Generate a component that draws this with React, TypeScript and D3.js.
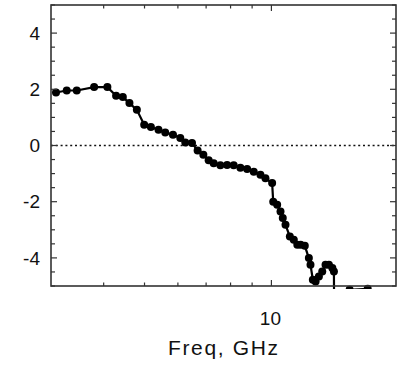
import React from "react";
import * as d3 from "d3";

const freqs: number[] = [
  3.083, 3.269, 3.453, 3.797, 4.082, 4.281, 4.441, 4.605, 4.795, 4.991,
  5.177, 5.397, 5.599, 5.841, 6.079, 6.247, 6.481, 6.683, 6.895, 7.098,
  7.295, 7.567, 7.85, 8.138, 8.442, 8.758, 9.08, 9.418, 9.68, 10.04,
  10.1, 10.32, 10.51, 10.64, 10.8, 11.06, 11.3, 11.52, 11.73, 12.0,
  12.27, 12.38, 12.54, 12.73, 12.96, 13.2, 13.44, 13.69, 13.95, 14.07,
  14.09, 15.33, 16.92,
];
const values: number[] = [
  1.886, 1.957, 1.957, 2.078, 2.078, 1.769, 1.722, 1.509, 1.27, 0.737,
  0.655, 0.559, 0.463, 0.381, 0.263, 0.107, 0.085, -0.178, -0.331, -0.527,
  -0.633, -0.705, -0.698, -0.705, -0.794, -0.84, -0.936, -1.043, -1.167, -1.338,
  -2.004, -2.11, -2.349, -2.584, -2.822, -3.238, -3.356, -3.534, -3.534, -3.569,
  -4.007, -4.246, -4.779, -4.84, -4.662, -4.484, -4.246, -4.246, -4.363, -4.484,
  -6.2, -5.135, -5.1,
];
const yMajorTicks: number[] = [-4, -2, 0, 2, 4];
const xMinorTicks: number[] = [4, 5, 6, 7, 8, 9];
const xMajorTicks: number[] = [10];
const xLabel = "Freq, GHz";

export default function App() {
  const W = 400, H = 367;
  const L = 51, R = 396, T = 5, B = 286;
  const x = d3.scaleLog().domain([3, 19.75]).range([L, R]);
  const y = d3.scaleLinear().domain([-5, 5]).range([B, T]);
  const pts = freqs.map((f, i) => ({ f, v: values[i] }));
  const line = d3.line<{ f: number; v: number }>().x((d) => x(d.f)).y((d) => y(d.v));
  const yMinor = d3.range(-5, 5.01, 0.5).filter((v) => !yMajorTicks.includes(v));
  const axisColor = "#333";
  const font = "'Liberation Sans', Arial, Helvetica, sans-serif";

  return (
    <svg width={W} height={H} style={{ position: "absolute", left: 0, top: 0, background: "#fff" }}>
      <defs>
        <clipPath id="plotclip">
          <rect x={L} y={T} width={R - L} height={B - T + 3} />
        </clipPath>
      </defs>
      <line x1={L} x2={R} y1={y(0)} y2={y(0)} stroke="#111" strokeWidth={1.4} strokeDasharray="2,2.8" />
      <g clipPath="url(#plotclip)">
        <path d={line(pts) || ""} fill="none" stroke="#000" strokeWidth={2.2} />
        {pts.map((d, i) => (
          <circle key={i} cx={x(d.f)} cy={y(d.v)} r={4} fill="#000" />
        ))}
      </g>
      <rect x={L} y={T} width={R - L} height={B - T} fill="none" stroke={axisColor} strokeWidth={1.6} />
      {yMinor.map((v) => (
        <g key={"ym" + v}>
          <line x1={L} x2={L + 4} y1={y(v)} y2={y(v)} stroke={axisColor} strokeWidth={1.2} />
          <line x1={R} x2={R - 4} y1={y(v)} y2={y(v)} stroke={axisColor} strokeWidth={1.2} />
        </g>
      ))}
      {yMajorTicks.map((v) => (
        <g key={"yM" + v}>
          <line x1={L} x2={L + 6} y1={y(v)} y2={y(v)} stroke={axisColor} strokeWidth={1.2} />
          <line x1={R} x2={R - 6} y1={y(v)} y2={y(v)} stroke={axisColor} strokeWidth={1.2} />
          <text x={40} y={y(v) + 6.6} textAnchor="end" fontFamily={font} fontSize={19} fill="#111">
            {v}
          </text>
        </g>
      ))}
      {xMinorTicks.map((f) => (
        <g key={"xm" + f}>
          <line x1={x(f)} x2={x(f)} y1={T} y2={T + 3.5} stroke={axisColor} strokeWidth={1.2} />
          <line x1={x(f)} x2={x(f)} y1={B} y2={B - 3.5} stroke={axisColor} strokeWidth={1.2} />
        </g>
      ))}
      {xMajorTicks.map((f) => (
        <g key={"xM" + f}>
          <line x1={x(f)} x2={x(f)} y1={T} y2={T + 6} stroke={axisColor} strokeWidth={1.2} />
          <line x1={x(f)} x2={x(f)} y1={B} y2={B - 6} stroke={axisColor} strokeWidth={1.2} />
          <text x={x(f) - 1} y={324.5} textAnchor="middle" fontFamily={font} fontSize={19} fill="#111">
            {f}
          </text>
        </g>
      ))}
      <text x={223} y={354.5} textAnchor="middle" fontFamily={font} fontSize={21} textLength={110} lengthAdjust="spacing" fill="#111">
        {xLabel}
      </text>
    </svg>
  );
}
